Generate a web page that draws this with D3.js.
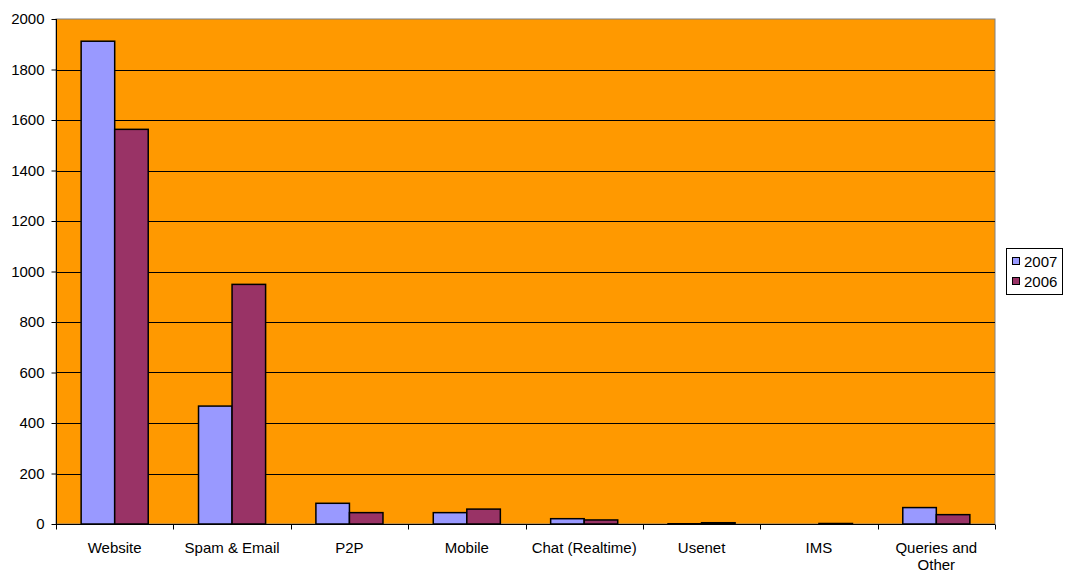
<!DOCTYPE html>
<html><head><meta charset="utf-8">
<script src="https://cdn.jsdelivr.net/npm/d3@7"></script>
<style>body{margin:0;background:#fff}svg{display:block}text{font-family:"Liberation Sans",Arial,sans-serif}</style>
</head><body><svg id="c" width="1066" height="572"></svg>
<script>
const categories = ["Website","Spam & Email","P2P","Mobile","Chat (Realtime)","Usenet","IMS","Queries and Other"];
const series2007 = [1912, 467, 82, 45, 21, 1, 0, 65];
const series2006 = [1563, 949, 45, 59, 16, 5, 2, 37];
const seriesNames = ["2007","2006"];
const seriesColors = ["#9999FF","#993366"];
const yTicks = [0,200,400,600,800,1000,1200,1400,1600,1800,2000];

const FS = "15px";
const svg = d3.select("#c");
const L=56, R=995, T=19, B=524;
const x = d3.scaleBand().domain(categories).range([L,R]).paddingInner(0).paddingOuter(0);
const y = d3.scaleLinear().domain([0,2000]).range([B,T]);
const bw = x.bandwidth()/3.5;

svg.append("rect").attr("x",L).attr("y",T).attr("width",R-L).attr("height",B-T).attr("fill","#FF9900").attr("stroke","#808080").attr("stroke-width",1);

svg.append("g").selectAll("line").data(yTicks.filter(d=>d>0 && d<2000)).join("line")
  .attr("x1",L).attr("x2",R).attr("y1",d=>Math.round(y(d))+0.5).attr("y2",d=>Math.round(y(d))+0.5)
  .attr("stroke","#000").attr("stroke-width",1);

const data = categories.map((c,i)=>({c, vals:[series2007[i],series2006[i]]}));
const g = svg.append("g");
data.forEach(d=>{
  d.vals.forEach((v,j)=>{
    const x0 = x(d.c)+x.bandwidth()/2 - bw + j*bw;
    g.append("rect").attr("x",x0).attr("y",y(v)).attr("width",bw).attr("height",B-y(v))
      .attr("fill",seriesColors[j]).attr("stroke","#000").attr("stroke-width",1.5);
  });
});

// y axis
const ya = svg.append("g").attr("transform",`translate(${L+0.5},0)`)
  .call(d3.axisLeft(y).tickValues(yTicks).tickSize(5).tickPadding(7).tickFormat(d3.format("d")));
ya.select(".domain").attr("d",`M0,${T}V${B}`).attr("stroke","#000");
ya.selectAll("text").attr("font-size",FS).attr("fill","#000").style("font-family","Liberation Sans, Arial, sans-serif");
ya.selectAll(".tick line").attr("stroke","#000");

// x axis
const xa = svg.append("g").attr("transform",`translate(0,${B+0.5})`);
xa.append("line").attr("x1",L).attr("x2",R).attr("stroke","#000");
const bounds = categories.map(c=>x(c)).concat([R]);
xa.selectAll("line.tk").data(bounds).join("line").attr("class","tk")
  .attr("x1",d=>Math.round(d)+0.5).attr("x2",d=>Math.round(d)+0.5).attr("y1",0).attr("y2",5).attr("stroke","#000");
const labelLines = {"Queries and Other":["Queries and","Other"]};
categories.forEach(c=>{
  const lines = labelLines[c] || [c];
  const t = xa.append("text").attr("x",x(c)+x.bandwidth()/2).attr("y",28).attr("text-anchor","middle")
    .attr("font-size",FS).attr("fill","#000");
  lines.forEach((s,i)=>t.append("tspan").attr("x",x(c)+x.bandwidth()/2).attr("dy",i?17:0).text(s));
});

// legend
const lg = svg.append("g");
lg.append("rect").attr("x",1006.5).attr("y",248.5).attr("width",56).attr("height",46).attr("fill","#fff").attr("stroke","#000");
seriesNames.forEach((n,i)=>{
  lg.append("rect").attr("x",1012.5).attr("y",257.5+i*20).attr("width",7).attr("height",7).attr("fill",seriesColors[i]).attr("stroke","#000");
  lg.append("text").attr("x",1024).attr("y",266.5+i*20).attr("font-size",FS).attr("fill","#000").text(n);
});
</script></body></html>
